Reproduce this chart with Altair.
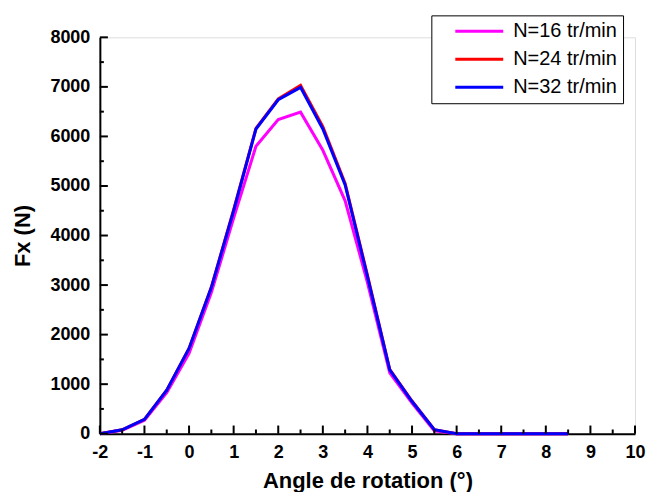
import altair as alt
import pandas as pd

angle = [-2, -1.5, -1, -0.5, 0, 0.5, 1, 1.5, 2, 2.5, 3, 3.5, 4, 4.5, 5, 5.5, 6, 6.5, 7, 7.5, 8, 8.5]
fx_16 = [0, 70, 270, 830, 1620, 2850, 4350, 5800, 6340, 6490, 5720, 4700, 3050, 1230, 620, 60, 0, 0, 0, 0, 0, 0]
fx_24 = [0, 80, 290, 880, 1720, 2960, 4520, 6160, 6760, 7030, 6200, 5050, 3200, 1300, 660, 80, 0, 0, 0, 0, 0, 0]
fx_32 = [0, 80, 290, 880, 1720, 2950, 4500, 6150, 6740, 6990, 6150, 5020, 3170, 1290, 650, 80, 0, 0, 0, 0, 0, 0]
series_names = ["N=16 tr/min", "N=24 tr/min", "N=32 tr/min"]
series_colors = ["#FF00FF", "#FF0000", "#0000FF"]
x_ticks = [-2, -1, 0, 1, 2, 3, 4, 5, 6, 7, 8, 9, 10]
x_minor = [-1.5, -0.5, 0.5, 1.5, 2.5, 3.5, 4.5, 5.5, 6.5, 7.5, 8.5, 9.5]
y_ticks = [0, 1000, 2000, 3000, 4000, 5000, 6000, 7000, 8000]
y_minor = [500, 1500, 2500, 3500, 4500, 5500, 6500, 7500]

W, H = 536, 397
FONT = "Liberation Sans"
MINUS_FIX = "replace(datum.label, '\u2212', '-')"

rows = []
for name, vals in zip(series_names, [fx_16, fx_24, fx_32]):
    for a, v in zip(angle, vals):
        rows.append({"angle": a, "fx": v, "serie": name})
df = pd.DataFrame(rows)

xscale = alt.Scale(domain=[-2, 10], nice=False, zero=False)
yscale = alt.Scale(domain=[0, 8000], nice=False, zero=False)

common_axis = dict(grid=False, tickSize=0, labelPadding=10, labelFontSize=18,
                   labelFontWeight="bold", labelFont=FONT, labelColor="black",
                   titleFont=FONT, titleFontSize=22, titleFontWeight="bold",
                   titleColor="black", domainColor="black", domainWidth=2,
                   labelFlush=False, labelExpr=MINUS_FIX)

lines = alt.Chart(df).mark_line(strokeWidth=3).encode(
    x=alt.X("angle:Q", scale=xscale,
            axis=alt.Axis(values=x_ticks, title="Angle de rotation (°)", titlePadding=9,
                          **common_axis)),
    y=alt.Y("fx:Q", scale=yscale,
            axis=alt.Axis(values=y_ticks, title="Fx (N)", titlePadding=15, format="d",
                          **common_axis)),
    color=alt.Color("serie:N",
                    scale=alt.Scale(domain=series_names, range=series_colors),
                    legend=alt.Legend(orient="none", legendX=332, legendY=-22, title=None,
                                      strokeColor="black", fillColor="white", padding=6,
                                      symbolType="M-4,0H4", symbolSize=144, symbolStrokeWidth=3,
                                      symbolOffset=32, labelOffset=24, rowPadding=8,
                                      labelFontSize=20, labelFont=FONT, labelColor="black")),
)

# inward tick marks (lengths in data units ~ 8 px / 4 px)
X_TICK_MAJOR, X_TICK_MINOR = 165, 85
Y_TICK_MAJOR, Y_TICK_MINOR = -2 + 0.18, -2 + 0.09

xt = pd.DataFrame({"t": x_ticks})
xm = pd.DataFrame({"t": x_minor})
yt = pd.DataFrame({"t": y_ticks})
ym = pd.DataFrame({"t": y_minor})

tick_x_major = alt.Chart(xt).mark_rule(color="black", strokeWidth=2).encode(
    x=alt.X("t:Q", scale=xscale), y=alt.datum(0), y2=alt.datum(X_TICK_MAJOR))
tick_x_minor = alt.Chart(xm).mark_rule(color="black", strokeWidth=2).encode(
    x=alt.X("t:Q", scale=xscale), y=alt.datum(0), y2=alt.datum(X_TICK_MINOR))
tick_y_major = alt.Chart(yt).mark_rule(color="black", strokeWidth=2).encode(
    y=alt.Y("t:Q", scale=yscale), x=alt.datum(-2), x2=alt.datum(Y_TICK_MAJOR))
tick_y_minor = alt.Chart(ym).mark_rule(color="black", strokeWidth=2).encode(
    y=alt.Y("t:Q", scale=yscale), x=alt.datum(-2), x2=alt.datum(Y_TICK_MINOR))

chart = alt.layer(lines, tick_x_major, tick_x_minor, tick_y_major, tick_y_minor).properties(
    width=W, height=H,
    padding={"left": 3, "top": 6, "right": 0, "bottom": 0},
).configure_view(stroke=None).configure(background="white")

chart.save("out.html", embed_options={"renderer": "svg", "actions": False})
